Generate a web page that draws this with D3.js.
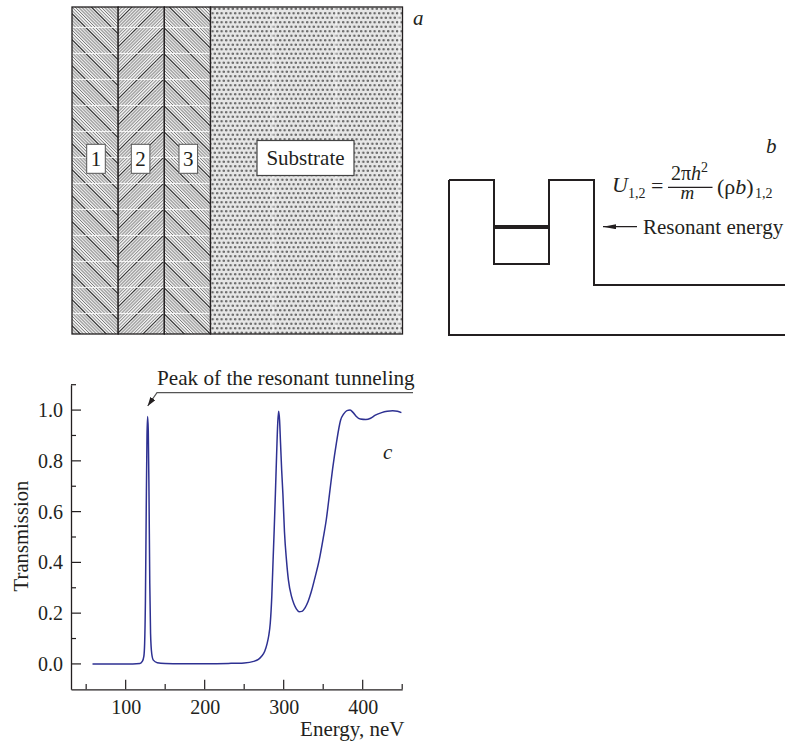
<!DOCTYPE html>
<html>
<head>
<meta charset="utf-8">
<script src="https://cdn.jsdelivr.net/npm/d3@7"></script>
<style>
  html, body { margin: 0; padding: 0; background: #fff; }
  svg { display: block; }
  text { font-family: "Liberation Serif", serif; fill: #231f20; }
</style>
</head>
<body>
<div id="chart"></div>
<script>
var svgWidth = 785;
var svgHeight = 742;

// panel c curve: energy, neV
var energy = [58, 100, 118, 121, 123, 124, 125, 126, 127, 127.8, 128.6, 129.5, 130.5, 131.5, 133, 135, 140, 150, 170, 200, 230, 250, 262, 268, 272, 276, 279, 281, 283, 285, 286.6, 288, 289.5, 291, 292.5, 293.6, 294.8, 296, 297.5, 299, 301, 303.5, 306, 310, 313, 316, 319.5, 323, 327, 331, 335, 340, 345, 350, 354, 358, 362, 366.7, 372, 376, 380, 384, 388, 392, 397, 404, 410, 416, 424, 431, 438, 444, 449];
// panel c curve: transmission
var transmission = [0, 0, 0.002, 0.01, 0.03, 0.08, 0.25, 0.6, 0.9, 0.975, 0.92, 0.68, 0.32, 0.12, 0.04, 0.015, 0.005, 0.002, 0.001, 0.001, 0.002, 0.004, 0.01, 0.018, 0.03, 0.05, 0.08, 0.11, 0.16, 0.27, 0.41, 0.53, 0.67, 0.82, 0.95, 0.995, 0.96, 0.87, 0.76, 0.67, 0.52, 0.41, 0.33, 0.265, 0.236, 0.217, 0.206, 0.207, 0.221, 0.247, 0.285, 0.345, 0.41, 0.495, 0.57, 0.67, 0.77, 0.87, 0.96, 0.985, 0.998, 1.0, 0.99, 0.975, 0.965, 0.963, 0.968, 0.98, 0.99, 0.995, 0.997, 0.995, 0.99];

var xMajor = [100, 200, 300, 400];
var xMinor = [50, 150, 250, 350, 450];
var yMajor = [0, 0.2, 0.4, 0.6, 0.8, 1.0];
var yMinor = [0.1, 0.3, 0.5, 0.7, 0.9, 1.1];

// panel a layers
var layerNames = ["1", "2", "3"];
var layerHatch = ["hatchDown", "hatchUp", "hatchDown"];

// panel b potential profile
var wellX = [0, 45, 45, 100, 100, 145, 145, 336];
var wellY = [155, 155, 71, 71, 155, 155, 50, 50];

var ink = "#231f20";
var tagCenters = [96, 140.6, 188.3];
var seams = [273, 336, 399];

var svg = d3.select("#chart")
  .append("svg")
  .attr("width", svgWidth)
  .attr("height", svgHeight);

var defs = svg.append("defs");

// 26px tile: fine hatch, a softer band, one dark line, white seam on top
function addHatch(id, flip, phase) {
  var p = defs.append("pattern")
    .attr("id", id)
    .attr("patternUnits", "userSpaceOnUse")
    .attr("y", 1)
    .attr("width", 26)
    .attr("height", 26)
    .attr("patternTransform", flip ? "scale(-1,1)" : null);
  p.append("rect").attr("width", 26).attr("height", 26).attr("fill", "#f0f0f0");
  for (var k = 7; k >= 0; k--) {
    var off = (phase + k * 3.25) % 26;
    for (var s = -26; s <= 0; s += 26) {
      p.append("line")
        .attr("x1", off + s).attr("y1", 0)
        .attr("x2", off + s + 26).attr("y2", 26)
        .attr("stroke", k === 0 ? "#333" : (k > 3 ? "#a4a4a4" : "#777"))
        .attr("stroke-width", k === 0 ? 1.2 : (k > 3 ? 1.4 : 1));
    }
  }
  p.append("line")
    .attr("x1", 0).attr("y1", 0.4).attr("x2", 26).attr("y2", 0.4)
    .attr("stroke", "#fff").attr("stroke-width", 0.9);
}
addHatch("hatchDown", false, 7.3);
addHatch("hatchUp", true, 18);

var dots = defs.append("pattern")
  .attr("id", "dots")
  .attr("patternUnits", "userSpaceOnUse")
  .attr("width", 4.5)
  .attr("height", 9)
  .attr("y", 2);
dots.append("rect").attr("width", 4.5).attr("height", 9).attr("fill", "#e6e6e6");
dots.append("circle").attr("cx", 1.1).attr("cy", 2.2).attr("r", 1.3).attr("fill", "#6a6a6a");
dots.append("circle").attr("cx", 3.4).attr("cy", 6.7).attr("r", 1.3).attr("fill", "#6a6a6a");

function addArrow(id, w, h) {
  defs.append("marker")
    .attr("id", id)
    .attr("viewBox", `0 0 ${w} ${h}`)
    .attr("refX", w).attr("refY", h / 2)
    .attr("markerWidth", w).attr("markerHeight", h)
    .attr("markerUnits", "userSpaceOnUse")
    .attr("orient", "auto")
    .append("path")
    .attr("d", `M0,0L${w},${h / 2}L0,${h}Z`)
    .attr("fill", ink);
}
addArrow("arrowLong", 13, 5);
addArrow("arrowShort", 9, 6);

// ---- panel a
var panelA = svg.append("g");
var layerScale = d3.scaleLinear().domain([0, 3]).range([72, 210.5]);

panelA.selectAll("rect.layer")
  .data(layerNames)
  .enter()
  .append("rect")
  .attr("class", "layer")
  .attr("x", (d, i) => layerScale(i))
  .attr("y", 7)
  .attr("width", layerScale(1) - layerScale(0))
  .attr("height", 327)
  .attr("fill", (d, i) => `url(#${layerHatch[i]})`)
  .attr("stroke", ink)
  .attr("stroke-width", 1.3);

panelA.append("rect")
  .attr("x", layerScale(3))
  .attr("y", 7)
  .attr("width", 402.5 - layerScale(3))
  .attr("height", 327)
  .attr("fill", "url(#dots)");

panelA.selectAll("line.seam")
  .data(seams)
  .enter()
  .append("line")
  .attr("class", "seam")
  .attr("x1", d => d).attr("x2", d => d)
  .attr("y1", 7).attr("y2", 334)
  .attr("stroke", "#fff")
  .attr("stroke-width", 0.8);

panelA.append("rect")
  .attr("x", layerScale(3))
  .attr("y", 7)
  .attr("width", 402.5 - layerScale(3))
  .attr("height", 327)
  .attr("fill", "none")
  .attr("stroke", ink)
  .attr("stroke-width", 1.3);

var labelBoxes = panelA.selectAll("g.tag")
  .data(layerNames)
  .enter()
  .append("g")
  .attr("class", "tag")
  .attr("transform", (d, i) => `translate(${tagCenters[i]}, 158.8)`);

labelBoxes.append("rect")
  .attr("x", -9.3).attr("y", -14.5)
  .attr("width", 18.6).attr("height", 29)
  .attr("fill", "#fff")
  .attr("stroke", "#555");

labelBoxes.append("text")
  .attr("text-anchor", "middle")
  .attr("y", 7)
  .style("font-size", "21px")
  .text(d => d);

panelA.append("rect")
  .attr("x", 257).attr("y", 140.5)
  .attr("width", 97).attr("height", 35)
  .attr("fill", "#fff")
  .attr("stroke", "#444")
  .attr("stroke-width", 1.2);

panelA.append("text")
  .attr("x", 305.5).attr("y", 165)
  .attr("text-anchor", "middle")
  .style("font-size", "21px")
  .text("Substrate");

svg.append("text")
  .attr("x", 413).attr("y", 25)
  .style("font-size", "21px")
  .style("font-style", "italic")
  .text("a");

// ---- panel b
var panelB = svg.append("g").attr("transform", "translate(449, 180)");
var bX = d3.scaleLinear().domain([0, 336]).range([0, 336]);
var bY = d3.scaleLinear().domain([0, 155]).range([155, 0]);
var profile = d3.line().x(d => bX(d[0])).y(d => bY(d[1]));

panelB.append("path")
  .attr("d", profile(wellX.map((v, i) => [v, wellY[i]])))
  .attr("fill", "none")
  .attr("stroke", ink)
  .attr("stroke-width", 2);

panelB.append("path")
  .attr("d", profile([[0, 155], [0, 0], [336, 0]]))
  .attr("fill", "none")
  .attr("stroke", ink)
  .attr("stroke-width", 2);

panelB.append("path")
  .attr("d", profile([[45, 108], [100, 108]]))
  .attr("stroke", ink)
  .attr("stroke-width", 4);

svg.append("line")
  .attr("x1", 637).attr("y1", 226.7)
  .attr("x2", 603).attr("y2", 226.7)
  .attr("stroke", ink)
  .attr("stroke-width", 1.2)
  .attr("marker-end", "url(#arrowLong)");

svg.append("text")
  .attr("x", 643).attr("y", 233.5)
  .style("font-size", "21px")
  .text("Resonant energy");

svg.append("text")
  .attr("x", 766).attr("y", 153)
  .style("font-size", "21px")
  .style("font-style", "italic")
  .text("b");

// formula
var formula = svg.append("g").style("font-size", "22px");
formula.append("text").attr("x", 612).attr("y", 192).style("font-style", "italic").text("U");
formula.append("text").attr("x", 628).attr("y", 198).style("font-size", "14px").text("1,2");
formula.append("text").attr("x", 651).attr("y", 193).text("=");
var numer = formula.append("text").attr("x", 671).attr("y", 179.5).style("font-size", "20px");
numer.append("tspan").text("2π");
numer.append("tspan").style("font-style", "italic").text("h");
numer.append("tspan").attr("dy", -8).style("font-size", "14px").text("2");
formula.append("line")
  .attr("x1", 668).attr("y1", 187.3).attr("x2", 712.5).attr("y2", 187.3)
  .attr("stroke", ink).attr("stroke-width", 1.3);
formula.append("text").attr("x", 680.5).attr("y", 198.5).style("font-style", "italic").style("font-size", "19px").text("m");
var paren = formula.append("text").attr("x", 717).attr("y", 194);
paren.append("tspan").text("(ρ");
paren.append("tspan").style("font-style", "italic").text("b");
paren.append("tspan").text(")");
formula.append("text").attr("x", 755).attr("y", 198).style("font-size", "14px").text("1,2");

// ---- panel c
var xScale = d3.scaleLinear().domain([30.8, 450]).range([71, 402.2]);
var yScale = d3.scaleLinear().domain([-0.1, 1.1]).range([689.3, 384.7]);

var bottomAxis = d3.axisBottom(xScale).tickValues(xMajor).tickSize(0).tickPadding(11).tickFormat(d3.format("d"));
var leftAxis = d3.axisLeft(yScale).tickValues(yMajor).tickSize(0).tickPadding(8).tickFormat(d3.format(".1f"));

var xAxis = svg.append("g")
  .attr("transform", `translate(0, ${yScale(-0.1)})`)
  .call(bottomAxis);

var yAxis = svg.append("g")
  .attr("transform", `translate(${xScale(30.8)}, 0)`)
  .call(leftAxis);

xAxis.select(".domain").attr("stroke", ink).attr("stroke-width", 1.3);
yAxis.select(".domain").attr("stroke", ink).attr("stroke-width", 1.3);
xAxis.selectAll("text").style("font-size", "20px").style("font-family", '"Liberation Serif", serif').attr("fill", ink);
yAxis.selectAll("text").style("font-size", "20px").style("font-family", '"Liberation Serif", serif').attr("fill", ink);

// ticks point inward
function xTicks(values, len) {
  svg.selectAll(null).data(values).enter().append("line")
    .attr("x1", d => xScale(d)).attr("x2", d => xScale(d))
    .attr("y1", yScale(-0.1)).attr("y2", yScale(-0.1) - len)
    .attr("stroke", ink).attr("stroke-width", 1.2);
}
function yTicks(values, len) {
  svg.selectAll(null).data(values).enter().append("line")
    .attr("y1", d => yScale(d)).attr("y2", d => yScale(d))
    .attr("x1", xScale(30.8)).attr("x2", xScale(30.8) + len)
    .attr("stroke", ink).attr("stroke-width", 1.2);
}
xTicks(xMajor, 9.5);
xTicks(xMinor, 5.3);
yTicks(yMajor, 10);
yTicks(yMinor, 5);

var curve = d3.line()
  .x(d => xScale(d[0]))
  .y(d => yScale(d[1]))
  .curve(d3.curveMonotoneX);

svg.append("path")
  .attr("d", curve(energy.map((e, i) => [e, transmission[i]])))
  .attr("fill", "none")
  .attr("stroke", "#2e3192")
  .attr("stroke-width", 1.5);

svg.append("text")
  .attr("x", 157).attr("y", 385)
  .style("font-size", "21.2px")
  .text("Peak of the resonant tunneling");

svg.append("path")
  .attr("d", "M413,392.7H157L147.7,406")
  .attr("fill", "none")
  .attr("stroke", "#555")
  .attr("stroke-width", 1.2)
  .attr("marker-end", "url(#arrowShort)");

svg.append("text")
  .attr("x", 383).attr("y", 459)
  .style("font-size", "21px")
  .style("font-style", "italic")
  .text("c");

svg.append("text")
  .attr("x", 404.5).attr("y", 736)
  .attr("text-anchor", "end")
  .style("font-size", "21px")
  .text("Energy, neV");

svg.append("text")
  .attr("transform", "translate(28, 536) rotate(-90)")
  .attr("text-anchor", "middle")
  .style("font-size", "20.7px")
  .text("Transmission");
</script>
</body>
</html>
